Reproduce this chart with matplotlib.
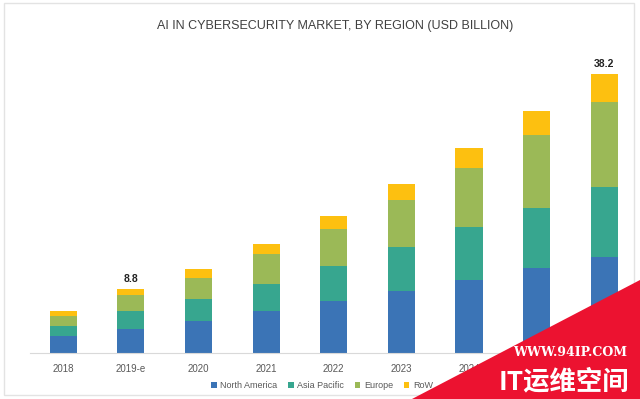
import numpy as np
import matplotlib
matplotlib.use("Agg")
from matplotlib import pyplot as plt
from matplotlib.patches import Rectangle, Polygon

years = ["2018", "2019-e", "2020", "2021", "2022", "2023", "2024", "2025", "2026"]
north_america = [2.27, 3.33, 4.37, 5.73, 7.09, 8.46, 9.96, 11.6, 13.1]
asia_pacific = [1.36, 2.36, 3.05, 3.74, 4.73, 6.0, 7.19, 8.24, 9.55]
europe = [1.4, 2.18, 2.86, 4.0, 5.14, 6.37, 8.05, 9.86, 11.6]
row = [0.64, 0.91, 1.13, 1.36, 1.81, 2.28, 2.73, 3.27, 3.87]
labels = {1: "8.8", 8: "38.2"}

series = [("North America", north_america, "#3b74b6"),
          ("Asia Pacific", asia_pacific, "#37a68f"),
          ("Europe", europe, "#9bb957"),
          ("RoW", row, "#fdc010")]

plt.rcParams['font.family'] = ['Liberation Sans', 'DejaVu Sans']

fig = plt.figure(figsize=(6.4, 3.99), dpi=100)
ax = fig.add_axes([30 / 640, 46 / 399, 602 / 640, 293 / 399])

x = np.arange(len(years))
bottom = np.zeros(len(years))
for name, vals, color in series:
    ax.bar(x, vals, width=0.4, bottom=bottom, color=color, label=name, zorder=2)
    bottom += np.array(vals)

for i, txt in labels.items():
    ax.text(x[i], bottom[i] + 0.6, txt, ha="center", va="bottom",
            fontsize=7.5, fontweight="bold", color="#222222")

ax.set_xlim(-0.49, 8.41)
ax.set_ylim(0, 40)
ax.set_xticks(x)
ax.set_xticklabels(years, fontsize=7, color="#595959")
ax.tick_params(axis="x", length=0, pad=8)
ax.set_yticks([])
for s in ["top", "right", "left"]:
    ax.spines[s].set_visible(False)
ax.spines["bottom"].set_color("#d9d9d9")

fig.text(335 / 640, 1 - 26 / 399, "AI IN CYBERSECURITY MARKET, BY REGION (USD BILLION)",
         ha="center", va="center", fontsize=9, color="#404040")

fig.legend(loc="center", bbox_to_anchor=(322 / 640, 13 / 399), ncol=4, frameon=False,
           fontsize=6.5, handlelength=0.6, handleheight=0.6, handletextpad=0.4,
           columnspacing=1.2, labelcolor="#595959")

# outer frame
fig.patches.append(Rectangle((4 / 640, 4 / 399), 630 / 640, 392 / 399, transform=fig.transFigure,
                             fill=False, edgecolor="#e3e3e3", linewidth=1))

# watermark
fig.patches.append(Polygon([(412 / 640, 0), (1, 119 / 399), (1, 0)], closed=True,
                           transform=fig.transFigure, facecolor="#ec1230", edgecolor="none", zorder=10))
fig.text(570 / 640, 1 - 353 / 399, "WWW.94IP.COM", ha="center", va="center", fontsize=9,
         fontweight="bold", family=["DejaVu Serif"], color="white", zorder=11)
fig.text(564 / 640, 1 - 382 / 399, "IT运维空间", ha="center", va="center", fontsize=19,
         fontweight="bold", family=["Noto Sans CJK SC", "DejaVu Sans"], color="white", zorder=11)

plt.savefig("out.png", dpi=100)
